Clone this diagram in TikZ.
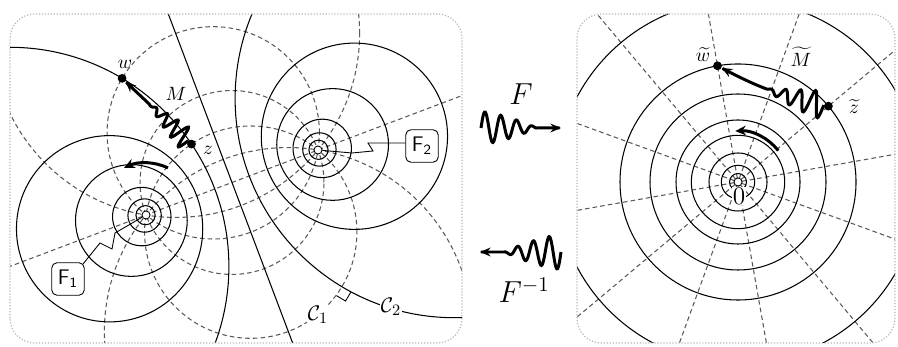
\documentclass[tikz,border=0pt]{standalone}
\usepackage{amsmath}
\usetikzlibrary{arrows.meta, calc, positioning, decorations}

% wave whose amplitude dies out along the first part of the path
\def\wavepart{0.6}
\pgfdeclaredecoration{fading wave}{wave}{%
  \state{wave}[width=0.4pt]{%
    \pgfmathsetmacro\wavefrac{\pgfdecoratedcompleteddistance/max(1,\pgfdecoratedcompleteddistance+\pgfdecoratedremainingdistance)/\wavepart}%
    \pgfmathsetmacro\waveamp{\pgfdecorationsegmentamplitude*max(0,1-0.5*\wavefrac-0.5*\wavefrac*\wavefrac)}%
    \pgfmathsetmacro\wavey{\waveamp*sin((\pgfdecoratedcompleteddistance/\pgfdecorationsegmentlength)*360)}%
    \pgfpathlineto{\pgfqpoint{0pt}{\wavey pt}}%
  }%
  \state{final}{%
    \pgfpathlineto{\pgfpointdecoratedpathlast}%
  }%
}

\begin{document}
\begin{tikzpicture}[
  x=0.02cm, y=0.02cm,
  level/.style  = {line width=0.6pt},
  flux/.style   = {line width=0.6pt, black!65, dash pattern=on 2.6pt off 1.8pt},
  frame/.style  = {draw=gray!55, densely dotted, line width=0.7pt, rounded corners=14pt},
  hole/.style   = {circle, draw, fill=white, line width=0.5pt, inner sep=0pt, minimum size=4.6pt},
  dot/.style    = {circle, fill, inner sep=0pt, minimum size=5pt},
  lbl/.style    = {font=\fontsize{11}{13}\selectfont, inner sep=0.5pt},
  cur/.style    = {font=\fontsize{13}{15}\selectfont, inner sep=0.5pt, fill=white},
  big/.style    = {font=\fontsize{18}{20}\selectfont},
  fbox/.style   = {draw, rounded corners=3pt, line width=0.5pt, minimum size=18.5pt,
                   inner sep=0pt, font=\sffamily\fontsize{12}{13}\selectfont},
  leader/.style = {line width=0.5pt},
  turn/.style   = {line width=1.7pt, -{Stealth[length=6pt, width=5.5pt]}},
  wave/.style   = {decorate, decoration={fading wave}, line width=1.7pt,
                   -{Stealth[length=6pt, width=5pt]}},
  wave part/.code = {\def\wavepart{#1}},
]
\useasboundingbox (0,0) rectangle (898,347);

%% ── Bipolar picture (left) ───────────────────────────────────────────────
\def\fd{183.9}   % distance F1--F2

\coordinate (F1) at (146,132);
\coordinate (F2) at (318,197);
\coordinate (Mid) at ($(F1)!0.5!(F2)$);

\begin{scope}
  \clip[rounded corners=14pt] (10,4) rectangle (462,333);
  % circles through both foci
  \foreach \ang in {30,60,90,120,150}{
    \pgfmathsetmacro\ct{cot(\ang)}
    \pgfmathsetmacro\rad{\fd/(2*sin(\ang))}
    \draw[flux] ($(Mid)!\ct!90:(F2)$) circle[radius=\rad];
  }
  \draw[flux] ($(F1)!-4!(F2)$) -- ($(F2)!-4!(F1)$);
  % circles of constant distance ratio
  \foreach \kk in {0.052,0.09,0.155,0.28,0.418,0.665}{
    \pgfmathsetmacro\off{\kk*\kk/(1-\kk*\kk)}
    \pgfmathsetmacro\rad{\kk*\fd/(1-\kk*\kk)}
    \draw[level] ($(F1)!-\off!(F2)$) circle[radius=\rad];
    \draw[level] ($(F2)!-\off!(F1)$) circle[radius=\rad];
  }
  \draw[level] ($(Mid)!4!90:(F2)$) -- ($(Mid)!4!-90:(F2)$);
\end{scope}

\node[hole] (F1h) at (F1) {};
\node[hole] (F2h) at (F2) {};

% right angle between C1 and C2
\coordinate (C1c) at ($(Mid)!-0.5774!90:(F2)$);
\coordinate (C2c) at ($(F2)!-0.7928!(F1)$);
\coordinate (P)   at (341.9,60.4);
\coordinate (Pa)  at ($(P)!6pt!180:(C2c)$);
\coordinate (Pb)  at ($(P)!6pt!180:(C1c)$);
\draw[leader] (Pa) -- ($(Pa)+(Pb)-(P)$) -- (Pb);
\node[cur] at (318,32) {$\mathcal{C}_1$};
\node[cur] at (391,40) {$\mathcal{C}_2$};

% points w, z and the map M
\node[dot] (w) at (122.1,268.6) {};
\node[dot] (z) at (191.5,202.9) {};
\node[lbl] at (125,283) {$w$};
\node[lbl] at (208,197) {$z$};
\node[lbl] at (176,253) {$M$};
\draw[wave, decoration={amplitude=6.5pt, segment length=7pt}, wave part=0.62] (z) -- (w);

% sense of rotation
\draw[turn] ($(F1)+(65:52)$) arc[start angle=65, end angle=115, radius=52];

% focus tags
\node[fbox] (F1box) at (68,68) {F\textsubscript{1}};
\node[fbox] (F2box) at (422,201) {F\textsubscript{2}};
\draw[leader] ($(F1box.north east)+(-1.5,-1.5)$) -- (100,104) -- (112,98) -- (115,114) -- (F1h);
\draw[leader] ($(F2box.west)+(0,3)$) -- (368,204) -- (373,196) -- (352,194) -- (F2h);

%% ── Maps between the pictures ───────────────────────────────────────────
\coordinate (Ftail) at (481,219);
\coordinate (Fhead) at (561,219);
\draw[wave, decoration={amplitude=9.5pt, segment length=9pt}, wave part=0.7] (Ftail) -- (Fhead);
\node[big] at (521,253) {$F$};

\coordinate (Gtail) at (561,95);
\coordinate (Ghead) at (480,95);
\draw[wave, decoration={amplitude=10pt, segment length=9pt}, wave part=0.7] (Gtail) -- (Ghead);
\node[big] at (524,57) {$F^{-1}$};

%% ── Polar picture (right) ───────────────────────────────────────────────
\coordinate (O) at (738,165);

\begin{scope}
  \clip[rounded corners=14pt] (577,4) rectangle (895,333);
  \foreach \a in {10,40,...,340}
    \draw[flux] ($(O)+(\a:4)$) -- ($(O)+(\a:260)$);
  \foreach \rad in {8.5,16.7,29,46.7,62,88,118,182}
    \draw[level] (O) circle[radius=\rad];
\end{scope}

\node[hole] (Oh) at (O) {};
\node[lbl, fill=white, inner sep=0.3pt, font=\fontsize{15}{16}\selectfont] at (739,151) {$0$};

\node[dot] (wt) at ($(O)+(100:118)$) {};
\node[dot] (zt) at ($(O)+(40:118)$) {};
\node[lbl] at (703,292) {$\widetilde{w}$};
\node[lbl] at (801,290) {$\widetilde{M}$};
\node[lbl] at (854,240) {$\widetilde{z}$};
\draw[wave, decoration={amplitude=8pt, segment length=8.5pt}, wave part=0.55] (zt) to[bend left=8] (wt);

\draw[turn] ($(O)+(38:51)$) arc[start angle=38, end angle=93, radius=51];

%% ── Frames ──────────────────────────────────────────────────────────────
\draw[frame] (10,4) rectangle (462,333);
\draw[frame] (577,4) rectangle (895,333);

\end{tikzpicture}
\end{document}
